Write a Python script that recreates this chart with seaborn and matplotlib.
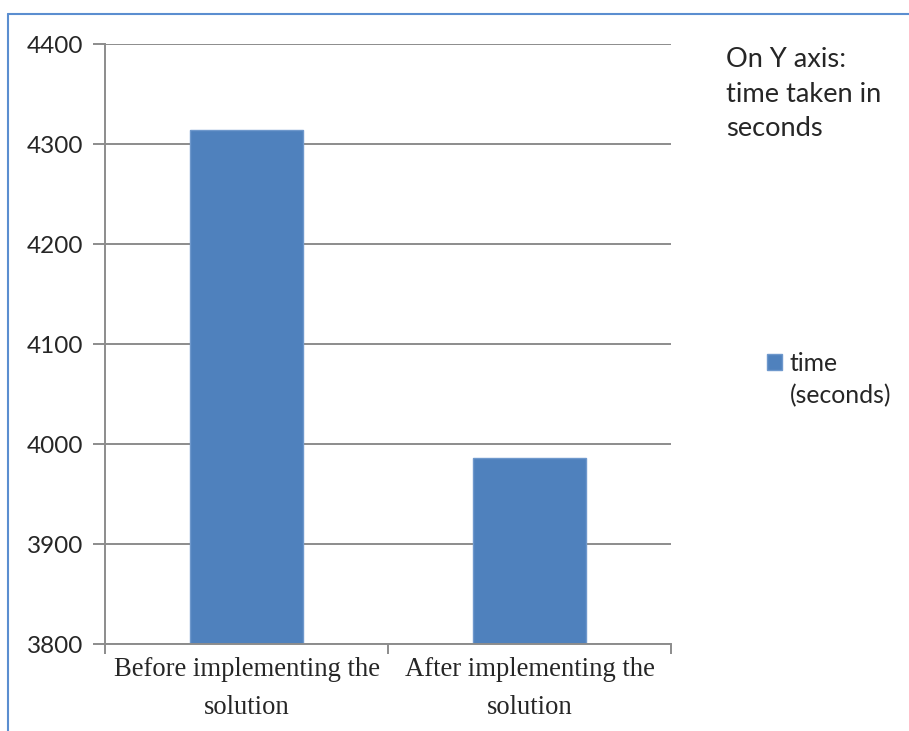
import matplotlib
matplotlib.use('Agg')
import matplotlib.pyplot as plt
import seaborn as sns
import pandas as pd
from matplotlib.lines import Line2D

# data
stages = ['Before implementing the\nsolution', 'After implementing the\nsolution']
times = [4314, 3986]
yticks = [3800, 3900, 4000, 4100, 4200, 4300, 4400]
series_name = 'time'
series_unit = '(seconds)'
note = 'On Y axis:\ntime taken in\nseconds'

df = pd.DataFrame({'stage': stages, 'time': times})

sns.set_style('white')
plt.rcParams['font.family'] = ['Lato', 'DejaVu Sans']

fig = plt.figure(figsize=(9.09, 7.31), dpi=100)
ax = fig.add_axes([105/909, 1-644/731, (671-105)/909, 600/731])

sns.barplot(data=df, x='stage', y='time', color='#4F81BD', width=0.4,
            edgecolor='#6E98CC', linewidth=1, saturation=1, label=series_name, ax=ax)

ax.set_ylim(3800, 4400)
ax.set_xlim(-0.5, 1.5)
ax.set_yticks(yticks)
ax.yaxis.grid(True, color='#8C8C8C', linewidth=1.4)
ax.set_axisbelow(True)
for s in ['top', 'right']:
    ax.spines[s].set_visible(False)
for s in ['left', 'bottom']:
    ax.spines[s].set_color('#8C8C8C')
    ax.spines[s].set_linewidth(1.4)
ax.tick_params(axis='y', length=9, width=1.4, color='#8C8C8C', labelsize=17.5, pad=6.5, left=True)
ax.tick_params(axis='x', length=0, pad=9)
ax.set_xticks([-0.5, 0.5, 1.5], minor=True)
ax.tick_params(axis='x', which='minor', length=7, width=1.4, color='#8C8C8C', bottom=True)
for lbl in ax.get_xticklabels():
    lbl.set_family('Liberation Serif')
    lbl.set_fontsize(19.2)
    lbl.set_linespacing(1.7)
ax.set_xlabel('')
ax.set_ylabel('')

leg = ax.legend(loc='upper left', bbox_to_anchor=(767/909, 1-352/731), bbox_transform=fig.transFigure,
                frameon=False, fontsize=17.8, handlelength=0.6, handleheight=0.6,
                handletextpad=0.32, borderpad=0, borderaxespad=0)
fig.text(790/909, 1-403/731, series_unit, fontsize=17.8, va='baseline', ha='left')

fig.text(726/909, 1-47/731, note, fontsize=19.6, va='top', ha='left', linespacing=1.48)

# partial frame of the chart area
c = '#5B8ED0'
fig.add_artist(Line2D([8/909, 8/909], [0, 1-14/731], transform=fig.transFigure, color=c, lw=1.5))
fig.add_artist(Line2D([8/909, 1], [1-14/731, 1-14/731], transform=fig.transFigure, color=c, lw=1.5))

fig.savefig('out.png', dpi=100)
